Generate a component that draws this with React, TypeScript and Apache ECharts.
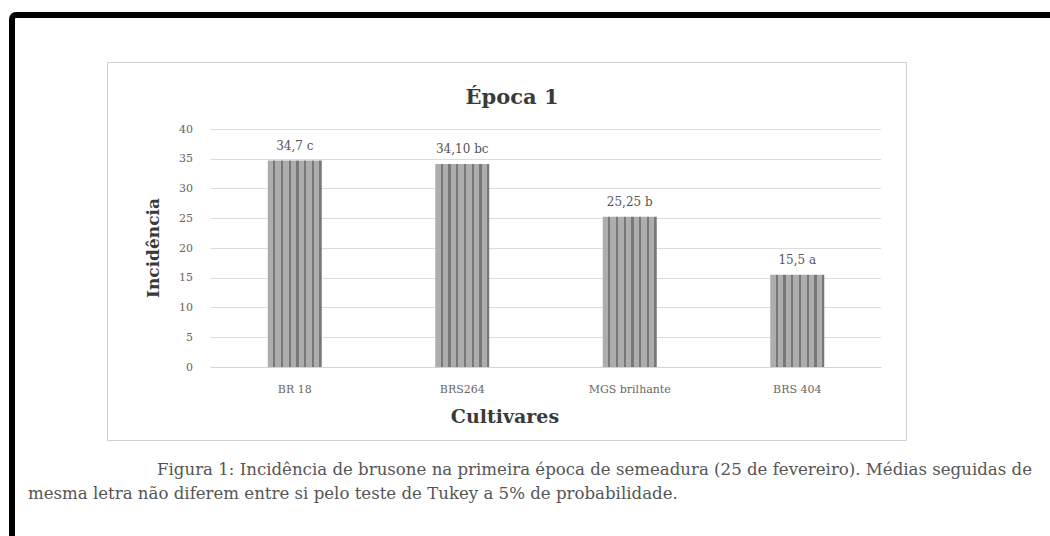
import React, { useEffect, useRef } from "react";
import * as echarts from "echarts";

const categories = ["BR 18", "BRS264", "MGS brilhante", "BRS 404"];
const incidence = [34.7, 34.1, 25.25, 15.5];
const valueTexts = ["34,7", "34,10", "25,25", "15,5"];
const tukeyLetters = ["c", "bc", "b", "a"];
const yTicks = { min: 0, max: 40, interval: 5 };
const titleText = "Época 1";
const xAxisTitle = "Cultivares";
const yAxisTitle = "Incidência";
const captionLine1 =
  "Figura 1: Incidência de brusone na primeira época de semeadura (25 de fevereiro). Médias seguidas de";
const captionLine2 =
  "mesma letra não diferem entre si pelo teste de Tukey a 5% de probabilidade.";

const SERIF = "'DejaVu Serif', 'Liberation Serif', serif";

function stripeStops() {
  const stops: { offset: number; color: string }[] = [];
  const n = 7;
  for (let i = 0; i < n; i++) {
    const a = i / n;
    const b = (i + 0.7) / n;
    const c = (i + 1) / n;
    stops.push({ offset: a, color: "#adadad" });
    stops.push({ offset: b, color: "#adadad" });
    stops.push({ offset: b, color: "#787878" });
    stops.push({ offset: c, color: "#787878" });
  }
  return stops;
}

export default function App() {
  const ref = useRef<HTMLDivElement>(null);
  useEffect(() => {
    if (!ref.current) return;
    const chart = echarts.init(ref.current, undefined, { renderer: "svg" });
    chart.setOption({
      animation: false,
      backgroundColor: "#ffffff",
      title: {
        text: titleText,
        left: 507,
        top: 81,
        textAlign: "center",
        textStyle: { fontFamily: SERIF, fontSize: 21, fontWeight: "bold", color: "#3a3a3a" },
      },
      grid: { left: 211, right: 169, top: 129, bottom: 169 },
      xAxis: {
        type: "category",
        data: categories,
        axisLine: { show: true, lineStyle: { color: "#d4d4d4" } },
        axisTick: { show: false },
        axisLabel: { fontFamily: SERIF, fontSize: 11, color: "#666", margin: 17 },
      },
      yAxis: {
        type: "value",
        min: yTicks.min,
        max: yTicks.max,
        interval: yTicks.interval,
        axisLine: { show: false },
        axisTick: { show: false },
        splitLine: { lineStyle: { color: "#dcdcdc" } },
        axisLabel: { fontFamily: SERIF, fontSize: 11, color: "#666", margin: 18 },
        name: yAxisTitle,
        nameLocation: "middle",
        nameGap: 50,
        nameRotate: 90,
        nameTextStyle: { fontFamily: SERIF, fontSize: 17, fontWeight: "bold", color: "#3a3a3a" },
      },
      series: [
        {
          type: "bar",
          data: incidence,
          barWidth: 54,
          itemStyle: {
            color: new echarts.graphic.LinearGradient(0, 0, 1, 0, stripeStops()),
          },
          label: {
            show: true,
            position: "top",
            distance: 9,
            fontFamily: SERIF,
            fontSize: 12,
            color: "#555",
            formatter: (p: any) => `${valueTexts[p.dataIndex]} ${tukeyLetters[p.dataIndex]}`,
          },
        },
      ],
      graphic: [
        {
          type: "rect",
          shape: { x: 107.5, y: 62.5, width: 799, height: 378 },
          style: { fill: "none", stroke: "#cfcfcf", lineWidth: 1 },
          silent: true,
        },
        {
          type: "rect",
          shape: { x: 12, y: 15, width: 1200, height: 700, r: 4 },
          style: { fill: "none", stroke: "#000", lineWidth: 6 },
          silent: true,
        },
        {
          type: "text",
          x: 505,
          y: 416,
          style: {
            text: xAxisTitle,
            fontFamily: SERIF,
            fontSize: 19,
            fontWeight: "bold",
            fill: "#3a3a3a",
            align: "center",
            verticalAlign: "middle",
          },
        },
        {
          type: "text",
          x: 157,
          y: 469,
          style: {
            text: captionLine1,
            fontFamily: SERIF,
            fontSize: 16.6,
            fill: "#555",
            verticalAlign: "middle",
          },
        },
        {
          type: "text",
          x: 28,
          y: 493,
          style: {
            text: captionLine2,
            fontFamily: SERIF,
            fontSize: 16.6,
            fill: "#555",
            verticalAlign: "middle",
          },
        },
      ],
    });
    return () => chart.dispose();
  }, []);
  return (
    <div style={{ position: "absolute", left: 0, top: 0 }}>
      <div ref={ref} style={{ width: 1050, height: 536 }} />
    </div>
  );
}
